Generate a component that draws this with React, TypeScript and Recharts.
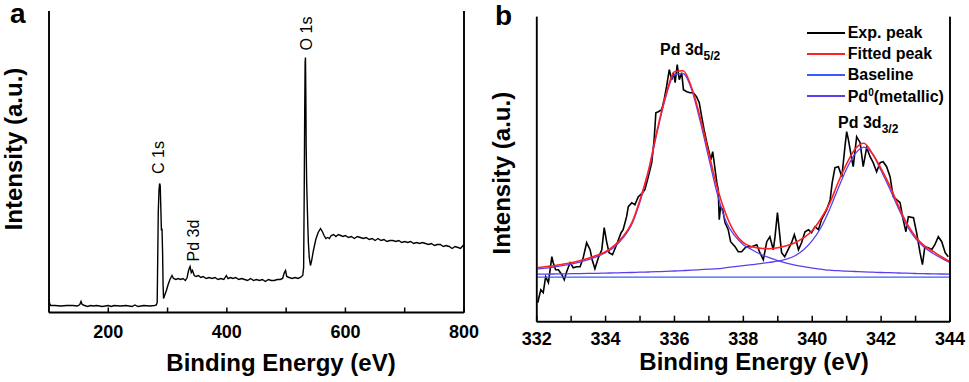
import { LineChart, Line, XAxis, YAxis, CartesianGrid, ReferenceDot, Legend } from "recharts";

const FONT = "'Liberation Sans', Arial, Helvetica, sans-serif";

// ---- panel a: survey spectrum ----
const surveyEnergy = [
  100, 101, 103, 110, 120, 130, 140, 148, 152, 154,
  156, 160, 165, 170, 175, 180, 190, 200, 205, 210,
  220, 230, 240, 245, 250, 260, 270, 278, 281, 282.5,
  283.3, 284.3, 285.5, 286.6, 287.6, 288.6, 289.6, 290.6, 291.6, 292.4,
  293.2, 295, 298, 301, 304, 307.5, 310, 314, 318, 322,
  326, 330, 333, 335, 336.5, 338, 340, 342, 345, 348,
  352, 356, 360, 365, 370, 375, 380, 385, 390, 395,
  399, 402, 406, 410, 415, 420, 425, 430, 435, 440,
  445, 450, 455, 460, 465, 470, 475, 480, 485, 490,
  494, 497, 499, 501, 505, 510, 515, 520, 524, 528,
  529.5, 530.5, 531.3, 532, 532.6, 533.2, 533.8, 534.6, 535.5, 536.5,
  537.5, 539, 541, 543, 546, 550, 554, 558, 561, 564,
  567, 570, 573, 576, 580, 584, 588, 592, 596, 600,
  605, 610, 615, 620, 625, 630, 635, 640, 645, 650,
  655, 660, 665, 670, 675, 680, 685, 690, 695, 700,
  705, 710, 715, 720, 725, 730, 735, 740, 745, 750,
  755, 760, 765, 770, 775, 780, 785, 790, 794, 797,
  800,
];
const surveyCounts = [
  13, 9, 7, 7, 6.5, 7, 7, 6.5, 8, 11,
  8, 7, 6, 7, 6.5, 7, 6, 7, 6, 7,
  6.5, 7, 6, 7.5, 6, 7, 6.5, 7, 7.5, 10,
  50, 100, 122, 129, 127, 105, 82, 84, 60, 28,
  14, 17, 22, 28, 33, 37, 34, 33, 34, 33,
  34, 32, 35, 41, 44, 46, 40, 42, 37, 36,
  37, 35, 36, 34, 35, 34, 35, 33, 34, 33,
  37, 34, 35, 34, 35, 33, 34, 33, 32, 34,
  32, 33, 32, 33, 31, 33, 32, 32, 33, 33,
  34, 40, 42, 36, 35, 34, 35, 34, 35, 37,
  45, 120, 200, 250, 255, 220, 165, 130, 110, 88,
  70, 55, 47, 52, 62, 73, 80, 84, 81, 77,
  74, 75, 74, 77, 78, 76, 78, 77, 76, 77,
  75, 76, 74, 76, 75, 74, 75, 73, 74, 72,
  74, 72, 73, 71, 72, 72, 71, 72, 70, 71,
  70, 71, 69, 70, 69, 70, 69, 68, 69, 67,
  68, 68, 66, 67, 66, 64, 66, 65, 64, 66,
  68,
];
const surveyTicks = [200, 300, 400, 500, 600, 700, 800];
const surveyTickLabels = [200, 400, 600, 800];
const surveyPeaks = [
  { text: "C 1s", e: 294.4, v: 155 },
  { text: "Pd 3d", e: 352.7, v: 72 },
  { text: "O 1s", e: 543.6, v: 279 },
];

// ---- panel b: Pd 3d region ----
const expEnergy = [
  332.03, 332.07, 332.12, 332.19, 332.26, 332.34, 332.44, 332.48, 332.55, 332.63,
  332.73, 332.8, 332.87, 332.97, 333.06, 333.16, 333.26, 333.35, 333.45, 333.55,
  333.61, 333.69, 333.79, 333.89, 333.96, 334.03, 334.1, 334.2, 334.32, 334.45,
  334.51, 334.61, 334.66, 334.76, 334.85, 334.95, 335.05, 335.14, 335.24, 335.34,
  335.41, 335.46, 335.53, 335.63, 335.7, 335.77, 335.85, 335.92, 335.97, 336.02,
  336.08, 336.14, 336.21, 336.26, 336.36, 336.45, 336.55, 336.64, 336.72, 336.79,
  336.86, 336.94, 337.01, 337.06, 337.11, 337.18, 337.23, 337.27, 337.3, 337.34,
  337.4, 337.47, 337.56, 337.63, 337.76, 337.85, 337.95, 338.08, 338.24, 338.39,
  338.48, 338.58, 338.68, 338.77, 338.87, 338.92, 338.99, 339.05, 339.11, 339.2,
  339.3, 339.4, 339.48, 339.55, 339.6, 339.69, 339.79, 339.89, 339.98, 340.08,
  340.18, 340.27, 340.42, 340.52, 340.58, 340.66, 340.76, 340.86, 340.95, 341.0,
  341.05, 341.15, 341.19, 341.29, 341.39, 341.48, 341.58, 341.68, 341.77, 341.87,
  341.97, 342.06, 342.16, 342.26, 342.35, 342.45, 342.55, 342.64, 342.72, 342.79,
  342.94, 343.03, 343.13, 343.2, 343.27, 343.37, 343.47, 343.56, 343.66, 343.76,
  343.86, 343.95,
];
const expCounts = [
  19, 25, 32, 29, 45, 39, 65, 59, 52, 52,
  47, 42, 50, 59, 54, 55, 55, 64, 79, 72,
  62, 53, 64, 72, 94, 80, 69, 67, 77, 89,
  92, 105, 115, 119, 117, 125, 128, 132, 145, 159,
  182, 209, 210, 212, 222, 235, 252, 242, 249, 239,
  257, 242, 249, 232, 230, 229, 229, 225, 219, 205,
  192, 179, 169, 162, 170, 152, 139, 132, 102, 115,
  112, 99, 92, 80, 75, 70, 70, 75, 75, 77,
  69, 62, 80, 85, 72, 85, 109, 89, 69, 65,
  72, 79, 87, 79, 72, 79, 90, 92, 89, 95,
  92, 102, 112, 122, 139, 154, 155, 145, 175, 190,
  182, 162, 155, 185, 179, 155, 174, 165, 159, 150,
  159, 160, 155, 145, 125, 122, 119, 102, 90, 105,
  104, 89, 69, 57, 75, 74, 72, 77, 85, 80,
  69, 65,
];
const fitEnergy = [
  332, 332.25, 332.5, 332.75, 333, 333.25, 333.5, 333.75,
  334, 334.25, 334.5, 334.75, 335, 335.25, 335.5, 335.75,
  336, 336.25, 336.5, 336.75, 337, 337.25, 337.5, 337.75,
  338, 338.25, 338.5, 338.75, 339, 339.25, 339.5, 339.75,
  340, 340.25, 340.5, 340.75, 341, 341.25, 341.5, 341.75,
  342, 342.25, 342.5, 342.75, 343, 343.25, 343.5, 343.75,
  344,
];
const fittedPeak = [
  54, 55, 56, 57.5, 59, 61, 63.5, 66.5,
  70, 76, 85, 98, 122, 152, 192, 227,
  250, 251, 234, 204, 168, 133, 107, 89,
  79, 75, 73.5, 73, 74, 76, 79, 84,
  91, 103, 118, 139, 158, 173, 178.5, 168,
  153, 136, 116, 98, 85, 76, 70.5, 65,
  60,
];
const pd52Component = [
  52.5, 53.5, 54.5, 56, 57.5, 59.5, 62, 65,
  69, 74.5, 83.5, 96.5, 120, 150, 190, 225,
  247, 248, 232, 200, 163, 127, 100, 86,
  77, 72, 67.5, 64, 61, 58.5, 56.5, 55,
  53.5, 52.5, 51.5, 51, 50.5, 50.2, 49.8, 49.5,
  49.2, 49, 48.7, 48.5, 48.2, 48, 47.8, 47.7,
  47.5,
];
const pd32Component = [
  47.5, 47.6, 47.7, 47.8, 48, 48.1, 48.3, 48.4,
  48.6, 48.8, 49, 49.2, 49.5, 49.7, 50, 50.3,
  50.7, 51.1, 51.5, 52, 52.5, 53, 54, 55,
  56, 57, 58, 59.3, 60.5, 62.5, 66, 72,
  81, 94, 112, 133, 153, 168, 174.5, 167.5,
  151, 133, 113.5, 96, 83, 74.5, 68.5, 63.5,
  59,
];
const baselineEnergy = [332, 344];
const baselineCounts = [44.5, 44.5];
const detailTicks = [332, 333, 334, 335, 336, 337, 338, 339, 340, 341, 342, 343, 344];
const detailTickLabels = [332, 334, 336, 338, 340, 342, 344];
const legendOrder = ["Exp. peak", "Fitted peak", "Baseline", "Pd0(metallic)"];

const toRows = (xs: number[], ys: number[]) => xs.map((e, i) => ({ e, v: ys[i] }));

const surveyData = toRows(surveyEnergy, surveyCounts);
const expData = toRows(expEnergy, expCounts);
const fitData = toRows(fitEnergy, fittedPeak);
const pd52Data = toRows(fitEnergy, pd52Component);
const pd32Data = toRows(fitEnergy, pd32Component);
const baselineData = toRows(baselineEnergy, baselineCounts);

function inwardTick(labelled: number[], labelDy: number, len: number) {
  return (props: any) => {
    const { x, y, payload } = props;
    const v = payload.value;
    return (
      <g>
        <line x1={x} x2={x} y1={y} y2={y - len} stroke="#000" strokeWidth={1.5} />
        {labelled.includes(v) ? (
          <text x={x} y={y + labelDy} textAnchor="middle" fontFamily={FONT} fontWeight="bold" fontSize={18} fill="#000">
            {v}
          </text>
        ) : null}
      </g>
    );
  };
}

function xTitle(dx: number, dy: number) {
  return (props: any) => {
    const vb = props.viewBox || { x: 0, y: 0, width: 0 };
    return (
      <text x={vb.x + vb.width / 2 + dx} y={vb.y + dy} textAnchor="middle" fontFamily={FONT} fontWeight="bold" fontSize={24} fill="#000">
        Binding Energy (eV)
      </text>
    );
  };
}

function yTitle(dy: number, letter: string, lx: number, ly: number) {
  return (props: any) => {
    const vb = props.viewBox || { x: 0, y: 0, height: 0 };
    const x = vb.x - 26;
    const y = vb.y + vb.height / 2 + dy;
    return (
      <g>
        <text x={x} y={y} transform={`rotate(-90 ${x} ${y})`} textAnchor="middle" fontFamily={FONT} fontWeight="bold" fontSize={24} fill="#000">
          Intensity (a.u.)
        </text>
        <text x={lx} y={ly} fontFamily={FONT} fontWeight="bold" fontSize={28} fill="#000">
          {letter}
        </text>
      </g>
    );
  };
}

function rotatedPeakLabel(text: string) {
  return (props: any) => {
    const vb = props.viewBox || { x: 0, y: 0 };
    return (
      <text x={vb.x} y={vb.y} transform={`rotate(-90 ${vb.x} ${vb.y})`} textAnchor="middle" fontFamily={FONT} fontSize={16} fill="#000">
        {text}
      </text>
    );
  };
}

function orbitalLabel(sub: string) {
  return (props: any) => {
    const vb = props.viewBox || { x: 0, y: 0 };
    return (
      <text x={vb.x} y={vb.y} fontFamily={FONT} fontWeight="bold" fontSize={16} fill="#000">
        Pd 3d
        <tspan fontSize={12} dy={5}>{sub}</tspan>
      </text>
    );
  };
}

function legendName(name: string) {
  if (name.startsWith("Pd0")) {
    return (
      <>
        Pd<sup style={{ fontSize: 10, verticalAlign: 6 }}>0</sup>
        {name.slice(3)}
      </>
    );
  }
  return name;
}

function FitLegend(props: any) {
  const items = (props.payload || [])
    .filter((it: any) => legendOrder.includes(it.value))
    .sort((a: any, b: any) => legendOrder.indexOf(a.value) - legendOrder.indexOf(b.value));
  return (
    <div style={{ fontFamily: FONT, fontWeight: "bold", fontSize: 16, color: "#000" }}>
      {items.map((it: any) => (
        <div key={it.value} style={{ display: "flex", alignItems: "center", height: 21, whiteSpace: "nowrap" }}>
          <span
            style={{
              display: "inline-block",
              width: 38,
              height: 2,
              background: it.payload?.stroke || it.color,
              marginRight: 3,
            }}
          />
          <span>{legendName(it.value)}</span>
        </div>
      ))}
    </div>
  );
}

const frameAxis = { stroke: "#000", strokeWidth: 1.6 };

function SurveyPanel() {
  return (
    <LineChart width={480} height={382} margin={{ top: 11, right: 15, bottom: 39.5, left: 48 }}>
      <CartesianGrid horizontalValues={[0, 301.5]} verticalValues={[100, 800]} stroke="#000" strokeWidth={1.5} />
      <XAxis
        dataKey="e"
        type="number"
        domain={[100, 800]}
        ticks={surveyTicks}
        interval={0}
        allowDataOverflow
        height={30}
        tickSize={0}
        tickMargin={0}
        tickLine={false}
        axisLine={{ stroke: "#000", strokeWidth: 2 }}
        tick={inwardTick(surveyTickLabels, 25.5, 5)}
        label={xTitle(24.5, 58)}
      />
      <YAxis type="number" domain={[0, 301.5]} allowDataOverflow width={1} tick={false} tickLine={false} axisLine={frameAxis} label={yTitle(-12.75, "a", 10, 23)} />
      <YAxis yAxisId="frame" orientation="right" type="number" domain={[0, 301.5]} allowDataOverflow width={1} tick={false} tickLine={false} axisLine={frameAxis} />
      <Line data={surveyData} dataKey="v" type="linear" stroke="#000" strokeWidth={1.4} dot={false} isAnimationActive={false} />
      {surveyPeaks.map((p) => (
        <ReferenceDot key={p.text} x={p.e} y={p.v} r={0} fill="none" stroke="none" label={{ content: rotatedPeakLabel(p.text) }} />
      ))}
    </LineChart>
  );
}

function DetailPanel() {
  return (
    <LineChart width={489} height={382} margin={{ top: 16.7, right: 18, bottom: 30.3, left: 55.7 }}>
      <CartesianGrid horizontalValues={[0, 305]} verticalValues={[332, 344]} stroke="#000" strokeWidth={1.5} />
      <XAxis
        dataKey="e"
        type="number"
        domain={[332, 344]}
        ticks={detailTicks}
        interval={0}
        allowDataOverflow
        height={30}
        tickSize={0}
        tickMargin={0}
        tickLine={false}
        axisLine={{ stroke: "#000", strokeWidth: 2 }}
        tick={inwardTick(detailTickLabels, 23.3, 6)}
        label={xTitle(10.7, 48.5)}
      />
      <YAxis type="number" domain={[0, 305]} allowDataOverflow width={1} tick={false} tickLine={false} axisLine={frameAxis} label={yTitle(4, "b", 15, 25)} />
      <YAxis yAxisId="frame" orientation="right" type="number" domain={[0, 305]} allowDataOverflow width={1} tick={false} tickLine={false} axisLine={frameAxis} />
      <Line data={expData} dataKey="v" name="Exp. peak" type="linear" stroke="#000" strokeWidth={1.6} dot={false} isAnimationActive={false} />
      <Line data={baselineData} dataKey="v" name="Baseline" type="linear" stroke="#3a5aff" strokeWidth={1.3} dot={false} isAnimationActive={false} />
      <Line data={pd52Data} dataKey="v" name="Pd0(metallic)" type="monotone" stroke="#5a3ff0" strokeWidth={1.3} dot={false} isAnimationActive={false} />
      <Line data={pd32Data} dataKey="v" name="Pd0 3/2" legendType="none" type="monotone" stroke="#5a3ff0" strokeWidth={1.3} dot={false} isAnimationActive={false} />
      <Line data={fitData} dataKey="v" name="Fitted peak" type="monotone" stroke="#ff2020" strokeWidth={1.6} dot={false} isAnimationActive={false} />
      <ReferenceDot x={335.58} y={267} r={0} fill="none" stroke="none" label={{ content: orbitalLabel("5/2") }} />
      <ReferenceDot x={340.75} y={193.5} r={0} fill="none" stroke="none" label={{ content: orbitalLabel("3/2") }} />
      <Legend
        layout="vertical"
        align="center"
        verticalAlign="middle"
        content={FitLegend}
        wrapperStyle={{ left: 326.7, top: 22.5, width: 160, height: 90 }}
      />
    </LineChart>
  );
}

export default function App() {
  return (
    <div style={{ position: "absolute", left: 0, top: 0, width: 969, height: 382, background: "#fff" }}>
      <div style={{ position: "absolute", left: 0, top: 0 }}>
        <SurveyPanel />
      </div>
      <div style={{ position: "absolute", left: 480, top: 0 }}>
        <DetailPanel />
      </div>
    </div>
  );
}
